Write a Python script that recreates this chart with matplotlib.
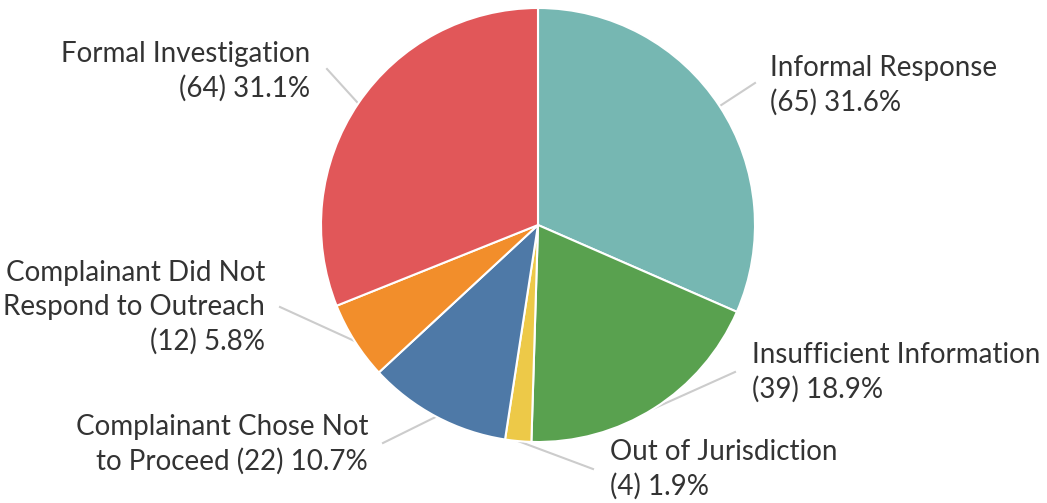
import numpy as np
import matplotlib
matplotlib.use("Agg")
import matplotlib.pyplot as plt

# case outcomes, clockwise from 12 o'clock
categories = ["Informal Response", "Insufficient Information", "Out of Jurisdiction",
              "Complainant Chose Not to Proceed", "Complainant Did Not Respond to Outreach",
              "Formal Investigation"]
counts = [65, 39, 4, 22, 12, 64]
colors = ["#76B7B2", "#59A14F", "#EDC948", "#4E79A7", "#F28E2B", "#E15759"]

# label text as wrapped in the chart
label_lines = [
    ["Informal Response", "{c}"],
    ["Insufficient Information", "{c}"],
    ["Out of Jurisdiction", "{c}"],
    ["Complainant Chose Not", "to Proceed {c}"],
    ["Complainant Did Not", "Respond to Outreach", "{c}"],
    ["Formal Investigation", "{c}"],
]

W, H = 1047, 503
cx, cy, r = 538, 225, 217   # pixel layout, y measured from top

# label anchor (x, y of first line), alignment, leader end point
label_pos = [
    (770, 68, "left", (755, 83)),
    (752, 355, "left", (735, 372)),
    (610, 452, "left", (593, 469)),
    (368, 427, "right", (383, 443)),
    (265, 273, "right", (280, 307)),
    (310, 54, "right", (327, 69)),
]
line_gap = 34

plt.rcParams['font.family'] = ['Lato', 'DejaVu Sans']
fig = plt.figure(figsize=(W / 100, H / 100), dpi=100)
ax = fig.add_axes([0, 0, 1, 1])

wedges, _ = ax.pie(counts, colors=colors, startangle=90, counterclock=False,
                   radius=r, center=(cx, H - cy),
                   wedgeprops=dict(edgecolor="white", linewidth=1.5))
ax.set_xlim(0, W)
ax.set_ylim(0, H)
ax.set_aspect("equal")
ax.axis("off")

total = sum(counts)
for i, w in enumerate(wedges):
    mid = np.deg2rad((w.theta1 + w.theta2) / 2)
    sx = cx + r * np.cos(mid)
    sy = (H - cy) + r * np.sin(mid)
    tx, ty, ha, (ex, ey) = label_pos[i]
    ax.plot([sx, ex], [sy, H - ey], color="#cccccc", lw=1.5, zorder=0)
    c = "({}) {:.1f}%".format(counts[i], counts[i] / total * 100)
    for j, s in enumerate(label_lines[i]):
        ax.text(tx, H - (ty + j * line_gap), s.format(c=c), ha=ha, va="center",
                fontsize=20, color="#333333")

fig.savefig("out.png", dpi=100)
